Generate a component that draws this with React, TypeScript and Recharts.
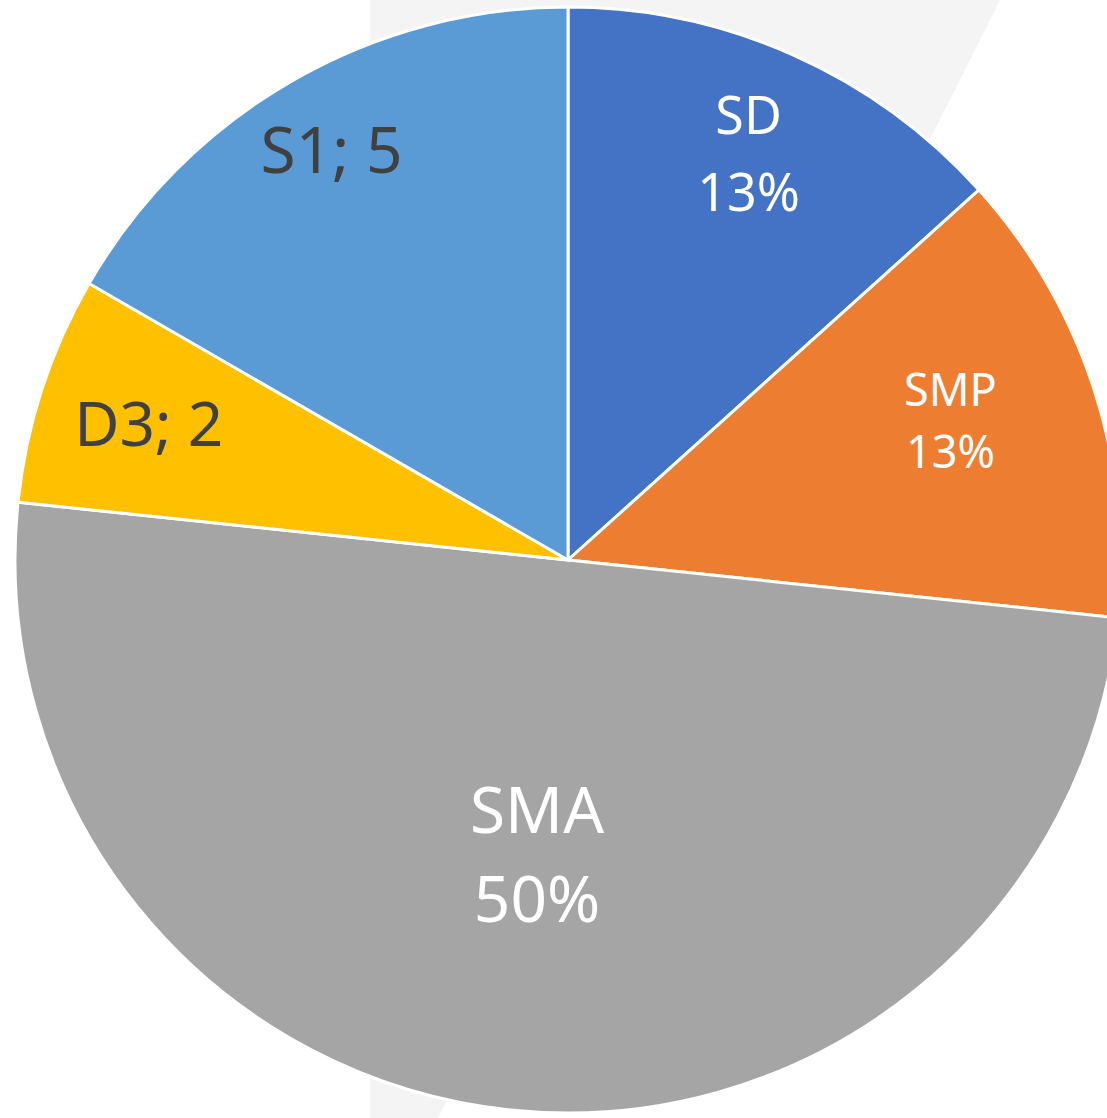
import React from 'react';
import { PieChart, Pie, Cell } from 'recharts';

const categories = ['SD', 'SMP', 'SMA', 'D3', 'S1'];
const values = [4, 4, 15, 2, 5];
const labelModes = ['percent', 'percent', 'percent', 'value', 'value'];

const colors = ['#4472C4', '#ED7D31', '#A5A5A5', '#FFC000', '#5B9BD5'];
const labelColors = ['#FFFFFF', '#FFFFFF', '#FFFFFF', '#404040', '#404040'];
const labelSizes = [52, 45, 64, 62, 64];
const labelGaps = [1.48, 1.38, 1.4, 1, 1];
const labelRadii = [0.803, 0.736, 0.536, 0.797, 0.855];
const labelAngleShift = [0, 2, 0, 0, 0];

const data = categories.map((name, i) => ({ name, value: values[i] }));

const RAD = Math.PI / 180;
const FONT = '"Noto Sans", "Open Sans", sans-serif';

const renderLabel = (props: any) => {
  const { cx, cy, midAngle, outerRadius, percent, name, value, index } = props;
  const r = outerRadius * labelRadii[index];
  const a = midAngle + labelAngleShift[index];
  const x = cx + r * Math.cos(-a * RAD);
  const y = cy + r * Math.sin(-a * RAD);
  const f = labelSizes[index];
  const fill = labelColors[index];
  if (labelModes[index] === 'percent') {
    const g = labelGaps[index] * f;
    const b1 = y + (0.714 * f - g) / 2;
    return (
      <text x={x} textAnchor="middle" fill={fill} fontSize={f} fontFamily={FONT}>
        <tspan x={x} y={b1}>{name}</tspan>
        <tspan x={x} y={b1 + g}>{`${Math.round(percent * 100)}%`}</tspan>
      </text>
    );
  }
  return (
    <text x={x} y={y + 0.357 * f} textAnchor="middle" fill={fill} fontSize={f} fontFamily={FONT}>
      {`${name}; ${value}`}
    </text>
  );
};

export default function App() {
  return (
    <div style={{ position: 'absolute', left: 0, top: 0, width: 1107, height: 1118, overflow: 'hidden', background: '#fff' }}>
      <svg width={1107} height={1118} style={{ position: 'absolute', left: 0, top: 0 }}>
        <polygon points="370,0 1000,0 438,1118 370,1118" fill="#F4F4F4" />
      </svg>
      <div style={{ position: 'absolute', left: 0, top: 0 }}>
        <PieChart width={1107} height={1118} margin={{ top: 0, right: 0, bottom: 0, left: 0 }}>
          <Pie
            data={data}
            dataKey="value"
            nameKey="name"
            cx={568}
            cy={560}
            outerRadius={553}
            startAngle={90}
            endAngle={-270}
            stroke="#FFFFFF"
            strokeWidth={3}
            labelLine={false}
            label={renderLabel}
            isAnimationActive={false}
          >
            {data.map((d, i) => (
              <Cell key={d.name} fill={colors[i]} />
            ))}
          </Pie>
        </PieChart>
      </div>
    </div>
  );
}
